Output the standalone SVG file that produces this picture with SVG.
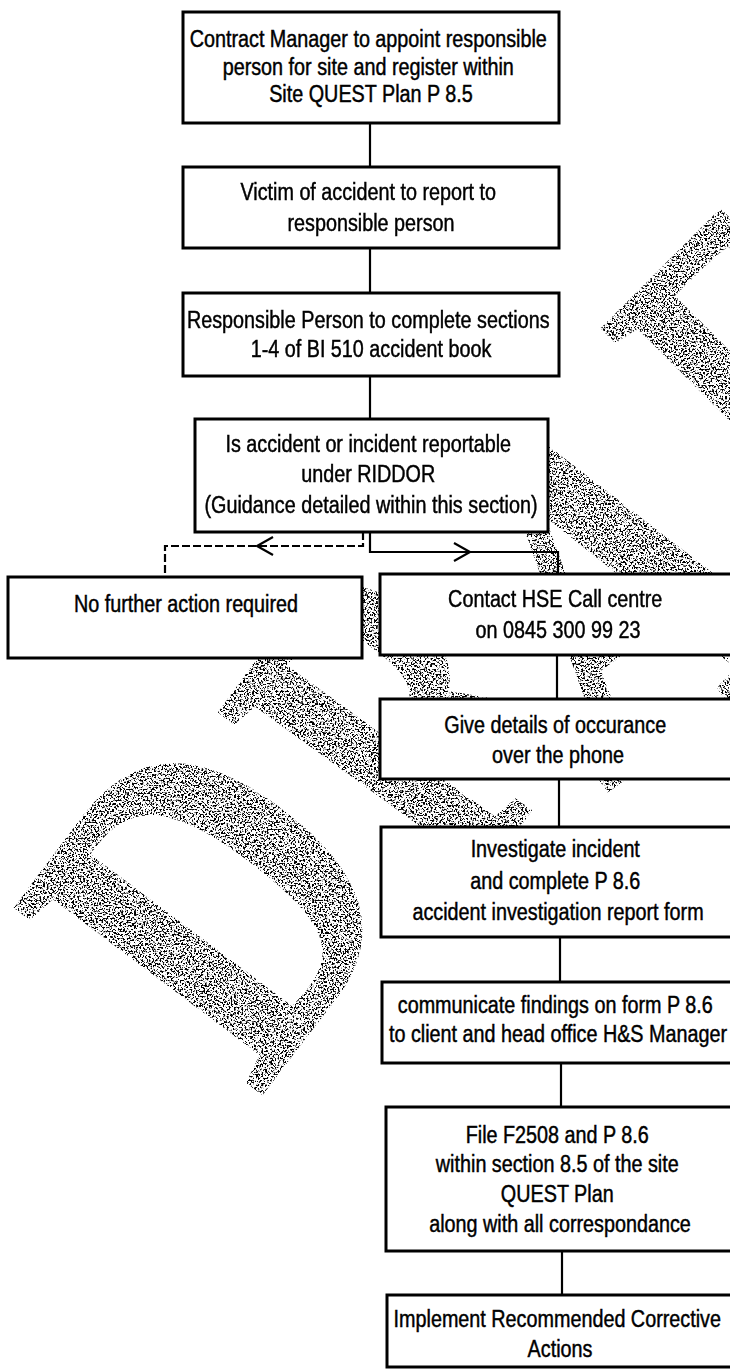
<svg xmlns="http://www.w3.org/2000/svg" width="730" height="1371" viewBox="0 0 730 1371">
  <defs>
    <style>
      .box { fill: #fff; stroke: #000; stroke-width: 3; }
      .t { font-family: "Liberation Sans", Arial, sans-serif; font-size: 23px; fill: #000; stroke: #000; stroke-width: 0.45; text-anchor: middle; }
      .ln { stroke: #000; stroke-width: 2.2; fill: none; }
      .dash { stroke-dasharray: 8 3; }
      .wm { font-family: "Liberation Serif", "Times New Roman", serif; font-weight: bold; font-size: 470px; fill: #000; stroke: #000; stroke-width: 4; }
    </style>
    <!-- speckled grain for the watermark lettering -->
    <filter id="grain" x="-5%" y="-5%" width="110%" height="110%">
      <feTurbulence type="fractalNoise" baseFrequency="0.55" numOctaves="2" seed="7" result="noise"/>
      <feColorMatrix in="noise" type="matrix" values="0 0 0 0 0  0 0 0 0 0  0 0 0 0 0  11 0 0 0 -5.6" result="dots"/>
      <feComposite in="dots" in2="SourceGraphic" operator="in"/>
    </filter>
  </defs>

  <rect x="0" y="0" width="730" height="1371" fill="#fff"/>

  <!-- watermark lettering, each glyph placed on its own slant -->
  <g id="watermark" filter="url(#grain)">
    <text class="wm" transform="translate(258 1098) rotate(-53) scale(0.77 1)">D</text>
    <text class="wm" transform="translate(466 898) rotate(-54) scale(0.68 1)">R</text>
    <text class="wm" transform="translate(605 792) rotate(-36) scale(0.77 1)">A</text>
    <text class="wm" transform="translate(817 550) rotate(-45) scale(0.65 1)">F</text>
  </g>

  <!-- connectors -->
  <g id="connectors">
    <line class="ln" x1="370" y1="123" x2="370" y2="167"/>
    <line class="ln" x1="370" y1="248" x2="370" y2="293"/>
    <line class="ln" x1="370" y1="376" x2="370" y2="419"/>
    <!-- not reportable: dashed branch -->
    <polyline class="ln dash" points="363,532 363,546 165,546 165,577"/>
    <polyline class="ln" points="273,537 257,546 273,555"/>
    <!-- reportable: solid branch -->
    <polyline class="ln" points="370,532 370,552 558,552 558,574"/>
    <polyline class="ln" points="454,543 470,552 454,561"/>
    <line class="ln" x1="557" y1="655" x2="557" y2="699"/>
    <line class="ln" x1="559" y1="779" x2="559" y2="827"/>
    <line class="ln" x1="560" y1="937" x2="560" y2="982"/>
    <line class="ln" x1="561" y1="1063" x2="561" y2="1107"/>
    <line class="ln" x1="562" y1="1251" x2="562" y2="1295"/>
  </g>

  <g id="appoint">
    <rect class="box" x="183" y="12" width="376" height="111"/>
    <text class="t" transform="translate(371 0) scale(0.86 1)">
      <tspan x="0" y="47">Contract Manager to appoint responsible</tspan>
      <tspan x="0" y="75">person for site and register within</tspan>
      <tspan x="0" y="102">Site QUEST Plan P 8.5</tspan>
    </text>
  </g>

  <g id="victim">
    <rect class="box" x="183" y="167" width="376" height="81"/>
    <text class="t" transform="translate(371 0) scale(0.86 1)">
      <tspan x="0" y="200">Victim of accident to report to</tspan>
      <tspan x="0" y="231">responsible person</tspan>
    </text>
  </g>

  <g id="complete-book">
    <rect class="box" x="183" y="293" width="376" height="83"/>
    <text class="t" transform="translate(371 0) scale(0.86 1)">
      <tspan x="0" y="328">Responsible Person to complete sections</tspan>
      <tspan x="0" y="357">1-4 of BI 510 accident book</tspan>
    </text>
  </g>

  <g id="riddor">
    <rect class="box" x="195" y="419" width="353" height="113"/>
    <text class="t" transform="translate(371 0) scale(0.86 1)">
      <tspan x="0" y="452">Is accident or incident reportable</tspan>
      <tspan x="0" y="482">under RIDDOR</tspan>
      <tspan x="0" y="513">(Guidance detailed within this section)</tspan>
    </text>
  </g>

  <g id="no-action">
    <rect class="box" x="8" y="577" width="354" height="81"/>
    <text class="t" transform="translate(186 0) scale(0.86 1)">
      <tspan x="0" y="612">No further action required</tspan>
    </text>
  </g>

  <g id="contact-hse">
    <rect class="box" x="380" y="574" width="356" height="81"/>
    <text class="t" transform="translate(558 0) scale(0.86 1)">
      <tspan x="0" y="607">Contact HSE Call centre</tspan>
      <tspan x="0" y="638">on 0845 300 99 23</tspan>
    </text>
  </g>

  <g id="give-details">
    <rect class="box" x="380" y="699" width="356" height="80"/>
    <text class="t" transform="translate(558 0) scale(0.86 1)">
      <tspan x="0" y="733">Give details of occurance</tspan>
      <tspan x="0" y="763">over the phone</tspan>
    </text>
  </g>

  <g id="investigate">
    <rect class="box" x="381" y="827" width="356" height="110"/>
    <text class="t" transform="translate(558 0) scale(0.86 1)">
      <tspan x="0" y="857">Investigate incident</tspan>
      <tspan x="0" y="889">and complete P 8.6</tspan>
      <tspan x="0" y="920">accident investigation report form</tspan>
    </text>
  </g>

  <g id="communicate">
    <rect class="box" x="382" y="982" width="356" height="81"/>
    <text class="t" transform="translate(558 0) scale(0.86 1)">
      <tspan x="0" y="1013">communicate findings on form P 8.6</tspan>
      <tspan x="0" y="1042">to client and head office H&amp;S Manager</tspan>
    </text>
  </g>

  <g id="file">
    <rect class="box" x="386" y="1107" width="356" height="144"/>
    <text class="t" transform="translate(560 0) scale(0.86 1)">
      <tspan x="0" y="1143">File F2508 and P 8.6</tspan>
      <tspan x="0" y="1172">within section 8.5 of the site</tspan>
      <tspan x="0" y="1202">QUEST Plan</tspan>
      <tspan x="0" y="1232">along with all correspondance</tspan>
    </text>
  </g>

  <g id="implement">
    <rect class="box" x="387" y="1295" width="356" height="72"/>
    <text class="t" transform="translate(560 0) scale(0.86 1)">
      <tspan x="0" y="1327">Implement Recommended Corrective</tspan>
      <tspan x="0" y="1357">Actions</tspan>
    </text>
  </g>
</svg>
